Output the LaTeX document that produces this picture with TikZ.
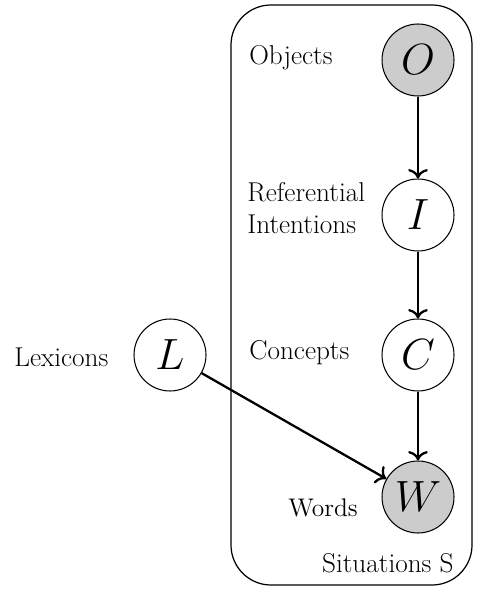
\documentclass[tikz,border=0pt]{standalone}
\usepackage{amsmath, amssymb}
\usepackage{tikz}
\usetikzlibrary{arrows.meta, positioning}

\tikzset{
  rv/.style={circle, draw, line width=0.6pt, minimum size=14.4mm, inner sep=0pt,
             font=\fontsize{23}{27}\selectfont},
  obs/.style={rv, fill=gray!40},
  lbl/.style={font=\fontsize{15.5}{18}\selectfont, align=left, inner sep=0pt},
  smalllbl/.style={font=\fontsize{14.5}{17}\selectfont, inner sep=0pt},
  edge/.style={->, line width=1.3pt}
}

\begin{document}
\begin{tikzpicture}[>={To[scale=1.2]}, x=0.02cm, y=-0.02cm]
  \useasboundingbox (0,0) rectangle (476,590);

  % Plate
  \draw[line width=0.7pt, rounded corners=0.8cm] (231,5) rectangle (472,585);
  \node[lbl, anchor=east] (plate) at (454,563) {Situations S};

  % Variables
  \node[obs] (O) at (418,60)  {$O$};
  \node[rv]  (I) at (418,215) {$I$};
  \node[rv]  (C) at (418,355) {$C$};
  \node[obs] (W) at (418,497) {$W$};
  \node[rv]  (L) at (170,355) {$L$};

  % Labels
  \node[lbl, anchor=west] (objects) at (249,58) {Objects};
  \node[lbl, anchor=west] (intentions) at (247,208) {Referential\\Intentions};
  \node[lbl, anchor=west] (concepts) at (249,353) {Concepts};
  \node[lbl, anchor=west] (lexicons) at (14,357) {Lexicons};
  \node[smalllbl, anchor=west] (words) at (288,508) {Words};

  % Edges
  \draw[edge] (O) -- (I);
  \draw[edge] (I) -- (C);
  \draw[edge] (C) -- (W);
  \draw[edge] (L) -- (W);
\end{tikzpicture}
\end{document}
